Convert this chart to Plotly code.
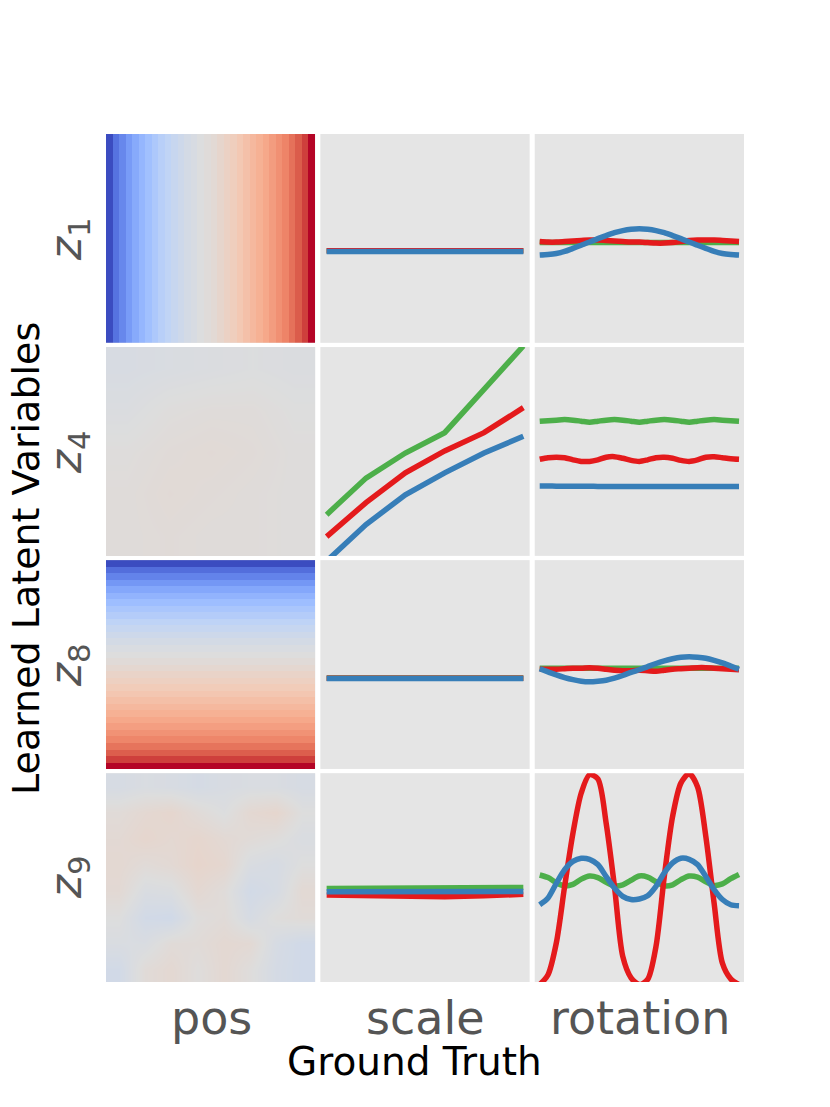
import plotly.graph_objects as go
from plotly.subplots import make_subplots

# latent rows and ground-truth factor columns
latents = ["1", "4", "8", "9"]
factors = ["pos", "scale", "rotation"]

# coolwarm (matplotlib) colour stops
coolwarm = [
    [0.0, "#3b4cc0"], [0.1, "#5977e3"], [0.2, "#7b9ff9"], [0.3, "#9ebeff"],
    [0.4, "#c0d4f5"], [0.5, "#dddddd"], [0.6, "#f2cbb7"], [0.7, "#f7ac8e"],
    [0.8, "#ee8468"], [0.9, "#d44e41"], [1.0, "#b40426"],
]

# --- pos column: mean latent over the 32x32 position grid
z1_pos = [-1.0, -0.82, -0.72, -0.62, -0.53, -0.45, -0.38, -0.31, -0.25, -0.2,
          -0.15, -0.11, -0.07, -0.04, -0.01, 0.02, 0.05, 0.09, 0.13, 0.17,
          0.22, 0.27, 0.32, 0.37, 0.42, 0.48, 0.54, 0.6, 0.67, 0.75, 0.84, 1.0]
z8_pos = [-1.0, -0.84, -0.74, -0.64, -0.55, -0.47, -0.4, -0.33, -0.27, -0.21,
          -0.16, -0.11, -0.07, -0.03, 0.0, 0.03, 0.07, 0.11, 0.15, 0.19,
          0.23, 0.28, 0.32, 0.37, 0.42, 0.47, 0.53, 0.59, 0.66, 0.74, 0.84, 1.0]
z4_pos = [
    [-0.04, -0.03, -0.02, -0.01, -0.02],
    [-0.02, 0.01, 0.02, 0.02, 0.0],
    [0.01, 0.03, 0.04, 0.03, 0.01],
    [0.02, 0.04, 0.03, 0.02, 0.01],
    [0.02, 0.03, 0.02, 0.02, 0.01],
]
z9_pos = [
    [-0.05, -0.03, -0.04, -0.06, -0.04, -0.03, -0.03, -0.05],
    [0.03, 0.06, 0.08, 0.03, -0.01, 0.06, 0.08, 0.0],
    [0.05, 0.08, 0.06, 0.08, 0.05, 0.03, 0.01, -0.03],
    [0.06, 0.03, 0.05, 0.09, 0.07, -0.03, -0.05, 0.0],
    [0.05, -0.03, -0.02, 0.06, 0.02, -0.08, -0.05, 0.05],
    [0.0, -0.08, -0.09, 0.01, 0.03, -0.05, 0.01, 0.03],
    [-0.03, -0.03, 0.03, 0.03, 0.06, 0.05, -0.05, -0.09],
    [-0.08, 0.03, 0.06, 0.01, 0.06, 0.01, -0.06, -0.09],
]

# --- scale column (6 scale values), per shape: green, red, blue
scale_x = [0.5, 0.6, 0.7, 0.8, 0.9, 1.0]
scale_green = {
    "1": [-0.235, -0.235, -0.235, -0.235, -0.235, -0.235],
    "4": [-1.21, -0.51, -0.03, 0.36, 1.19, 2.02],
    "8": [-0.26, -0.26, -0.26, -0.26, -0.26, -0.26],
    "9": [-0.21, -0.21, -0.205, -0.21, -0.205, -0.19],
}
scale_red = {
    "1": [-0.235, -0.23, -0.23, -0.23, -0.235, -0.235],
    "4": [-1.63, -0.98, -0.41, 0.01, 0.36, 0.84],
    "8": [-0.265, -0.265, -0.265, -0.265, -0.265, -0.265],
    "9": [-0.335, -0.345, -0.36, -0.365, -0.35, -0.32],
}
scale_blue = {
    "1": [-0.25, -0.25, -0.25, -0.25, -0.25, -0.25],
    "4": [-2.1, -1.4, -0.83, -0.41, -0.03, 0.29],
    "8": [-0.267, -0.267, -0.267, -0.267, -0.267, -0.267],
    "9": [-0.27, -0.27, -0.27, -0.275, -0.275, -0.265],
}

# --- rotation column (degrees), per shape: green, red, blue
rot_x = [0, 15, 30, 45, 60, 75, 90, 105, 120, 135, 150, 165, 180,
         195, 210, 225, 240, 255, 270, 285, 300, 315, 330, 345, 360]
rot_green = {
    "1": [-0.08, -0.08, -0.08, -0.08, -0.08, -0.08, -0.08, -0.08, -0.08,
          -0.08, -0.08, -0.08, -0.08, -0.08, -0.08, -0.08, -0.08, -0.08,
          -0.08, -0.08, -0.08, -0.08, -0.08, -0.08, -0.08],
    "4": [0.58, 0.59, 0.6, 0.61, 0.6, 0.58, 0.56, 0.58, 0.6, 0.61, 0.6,
          0.58, 0.56, 0.58, 0.6, 0.61, 0.6, 0.58, 0.56, 0.58, 0.6, 0.61,
          0.6, 0.59, 0.58],
    "8": [-0.07, -0.07, -0.07, -0.07, -0.07, -0.07, -0.07, -0.07, -0.07,
          -0.07, -0.07, -0.07, -0.07, -0.07, -0.07, -0.07, -0.07, -0.07,
          -0.07, -0.07, -0.07, -0.07, -0.07, -0.07, -0.07],
    "9": [0.05, 0.0, -0.1, -0.16, -0.13, -0.03, 0.03, 0.0, -0.09, -0.16,
          -0.14, -0.05, 0.03, 0.01, -0.08, -0.16, -0.14, -0.04, 0.03, 0.01,
          -0.08, -0.15, -0.12, -0.02, 0.06],
}
rot_red = {
    "1": [-0.06, -0.07, -0.07, -0.06, -0.05, -0.04, -0.03, -0.03, -0.04,
          -0.05, -0.06, -0.07, -0.07, -0.08, -0.09, -0.09, -0.08, -0.06,
          -0.04, -0.03, -0.03, -0.03, -0.04, -0.05, -0.06],
    "4": [-0.15, -0.12, -0.11, -0.12, -0.16, -0.19, -0.19, -0.16, -0.11,
          -0.1, -0.13, -0.17, -0.19, -0.16, -0.12, -0.11, -0.13, -0.17,
          -0.19, -0.16, -0.11, -0.1, -0.12, -0.14, -0.15],
    "8": [-0.09, -0.09, -0.09, -0.08, -0.07, -0.07, -0.06, -0.07, -0.09,
          -0.11, -0.12, -0.12, -0.11, -0.12, -0.13, -0.11, -0.09, -0.08,
          -0.07, -0.06, -0.06, -0.07, -0.08, -0.09, -0.1],
    "9": [-2.05, -1.86, -1.25, -0.17, 0.85, 1.62, 1.97, 1.89, 1.04, -0.17,
          -1.51, -1.92, -2.05, -1.95, -1.32, 0.02, 1.17, 1.81, 1.99, 1.74,
          0.79, -0.49, -1.64, -1.94, -2.05],
}
rot_blue = {
    "1": [-0.32, -0.31, -0.29, -0.25, -0.19, -0.13, -0.07, -0.005, 0.055,
          0.11, 0.15, 0.175, 0.185, 0.175, 0.15, 0.11, 0.055, -0.005,
          -0.07, -0.13, -0.19, -0.25, -0.29, -0.31, -0.32],
    "4": [-0.66, -0.66, -0.665, -0.665, -0.665, -0.665, -0.665, -0.67,
          -0.67, -0.67, -0.67, -0.67, -0.67, -0.67, -0.67, -0.67, -0.67,
          -0.67, -0.67, -0.67, -0.67, -0.67, -0.67, -0.67, -0.67],
    "8": [-0.08, -0.14, -0.2, -0.25, -0.29, -0.32, -0.33, -0.32, -0.3,
          -0.26, -0.21, -0.15, -0.1, -0.04, 0.02, 0.07, 0.11, 0.14, 0.15,
          0.14, 0.12, 0.08, 0.03, -0.03, -0.09],
    "9": [-0.52, -0.39, -0.11, 0.15, 0.31, 0.37, 0.35, 0.25, 0.02, -0.2,
          -0.36, -0.42, -0.41, -0.35, -0.17, 0.09, 0.28, 0.37, 0.35, 0.25,
          0.02, -0.23, -0.42, -0.52, -0.54],
}

GREEN, RED, BLUE = "#4daf4a", "#e41a1c", "#377eb8"
LW = 5.5

fig = make_subplots(rows=4, cols=3, horizontal_spacing=0.008,
                    vertical_spacing=0.005)

heat_z = {
    "1": [z1_pos],
    "4": z4_pos,
    "8": [[v] for v in z8_pos],
    "9": z9_pos,
}

for i, lat in enumerate(latents):
    r = i + 1
    fig.add_trace(go.Heatmap(z=heat_z[lat], colorscale=coolwarm, zmin=-1, zmax=1,
                             showscale=False, zsmooth=("best" if lat in ("4", "9") else False),
                             hoverinfo="skip"),
                  row=r, col=1)
    fig.update_yaxes(autorange="reversed", row=r, col=1)

    for ys, c in ((scale_green, GREEN), (scale_red, RED), (scale_blue, BLUE)):
        fig.add_trace(go.Scatter(x=scale_x, y=ys[lat], mode="lines",
                                 line=dict(color=c, width=LW), showlegend=False),
                      row=r, col=2)
    for ys, c in ((rot_green, GREEN), (rot_red, RED), (rot_blue, BLUE)):
        fig.add_trace(go.Scatter(x=rot_x, y=ys[lat], mode="lines",
                                 line=dict(color=c, width=LW, shape="spline", smoothing=0.8),
                                 showlegend=False),
                      row=r, col=3)
    fig.update_xaxes(range=[0.484, 1.016], row=r, col=2)
    fig.update_yaxes(range=[-2, 2], row=r, col=2)
    fig.update_xaxes(range=[-9, 369], row=r, col=3)
    fig.update_yaxes(range=[-2, 2], row=r, col=3)

fig.update_xaxes(showticklabels=False, showgrid=False, zeroline=False, ticks="")
fig.update_yaxes(showticklabels=False, showgrid=False, zeroline=False, ticks="")

# page pixel -> paper coords of the plotting box (box spans 106..744 x 134..982)
X0, X1, Y0, Y1 = 106, 744, 134, 982


def px(x):
    return (x - X0) / (X1 - X0)


def py(y):
    return 1 - (y - Y0) / (Y1 - Y0)


annotations = []
row_centers = [239, 452, 665, 877]
for lat, yc in zip(latents, row_centers):
    annotations.append(dict(text=f"<i>z</i><sub>{lat}</sub>", x=px(68), y=py(yc),
                            xref="paper", yref="paper", showarrow=False, textangle=-90,
                            xanchor="center", yanchor="middle",
                            font=dict(size=44, color="#555555")))
col_centers = [211, 426, 640]
for name, xc in zip(factors, col_centers):
    annotations.append(dict(text=name, x=px(xc), y=py(1018), xref="paper", yref="paper",
                            showarrow=False, xanchor="center", yanchor="middle",
                            font=dict(size=46, color="#555555")))
annotations.append(dict(text="Ground Truth", x=px(414), y=py(1061), xref="paper",
                        yref="paper", showarrow=False, xanchor="center", yanchor="middle",
                        font=dict(size=39, color="black")))
annotations.append(dict(text="Learned Latent Variables", x=px(26), y=py(559),
                        xref="paper", yref="paper", showarrow=False, textangle=-90,
                        xanchor="center", yanchor="middle",
                        font=dict(size=38, color="black")))

# the page adds an 8px body margin, so shift the margins by that much
fig.update_layout(
    width=830, height=1107,
    margin=dict(l=98, r=94, t=126, b=133),
    paper_bgcolor="white",
    plot_bgcolor="#e5e5e5",
    font=dict(family="DejaVu Sans"),
    showlegend=False,
    annotations=annotations,
)

fig.write_html("out.html")
